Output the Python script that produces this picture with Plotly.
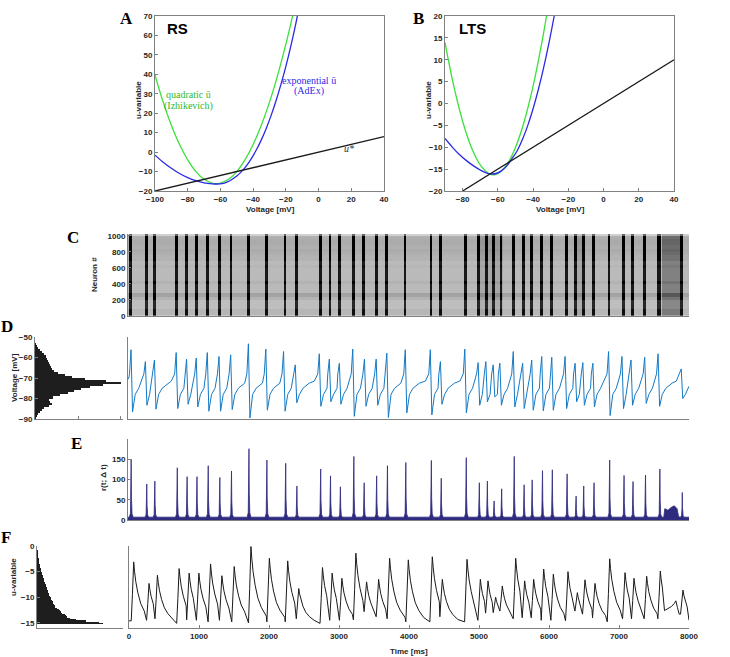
import plotly.graph_objects as go

W, H = 730, 657

# ---------------- Panel A (RS) : nullclines ----------------
a_v_quad = [-100, -95, -90, -85, -80, -75, -70, -65, -62.5, -60, -55, -50, -45, -40, -35, -30, -25, -20, -16, -15]
a_u_quad = [39.6, 25.7, 13.8, 3.9, -4.0, -10.0, -14.0, -15.9, -16.2, -15.9, -14.0, -10.0, -4.0, 3.9, 13.8, 25.7, 39.6, 55.5, 69.6, 73.4]
a_v_exp = [-100, -95, -90, -85, -80, -75, -70, -65, -62, -59, -56, -53, -50, -47, -44, -41, -38, -35, -32, -29, -26, -23, -20, -17, -14, -12]
a_u_exp = [-1.6, -5.2, -8.3, -11.0, -13.1, -14.7, -15.8, -16.3, -16.4, -16.2, -15.4, -14.1, -12.3, -9.9, -6.9, -3.2, 1.2, 6.3, 12.2, 18.9, 26.4, 34.8, 44.1, 54.4, 65.7, 74.1]
a_v_lin = [-100, 40]
a_u_lin = [-20, 8]

# ---------------- Panel B (LTS) ----------------
b_v_quad = [-90, -85, -80, -75, -70, -65, -62.5, -60, -55, -50, -45, -40, -35, -32]
b_u_quad = [13.95, 3.95, -4.05, -10.05, -14.05, -16.05, -16.3, -16.05, -14.05, -10.05, -4.05, 3.95, 13.95, 20.9]
b_v_exp = [-90, -86, -82, -78, -74, -70, -67, -64, -61, -58, -55, -52, -49, -46, -43, -40, -37, -34, -31, -28, -26]
b_u_exp = [-8.0, -9.9, -11.6, -13.0, -14.2, -15.2, -15.8, -16.1, -16.0, -15.4, -14.3, -12.6, -10.8, -8.2, -5.0, -1.2, 3.2, 8.2, 13.8, 20.0, 24.5]
b_v_lin = [-80, 40]
b_u_lin = [-20, 10]

# ---------------- Panel E : population rate peaks ----------------
e_peak_t = [45, 268, 383, 703, 843, 984, 1144, 1310, 1476, 1725, 1981, 2249, 2409, 2748, 2888, 3029, 3221, 3368,
            3546, 3700, 3962, 4326, 4467, 4824, 5010, 5125, 5221, 5329, 5508, 5649, 5764, 5911, 6051, 6262, 6390,
            6499, 6646, 6869, 7074, 7202, 7380, 7585, 7904]
e_peak_h = [150, 89, 96, 129, 107, 107, 134, 105, 121, 176, 148, 140, 84, 126, 109, 82, 157, 92, 109, 134, 142,
            147, 103, 154, 92, 96, 47, 77, 157, 87, 99, 122, 124, 114, 59, 84, 92, 148, 110, 95, 111, 126, 68]
e_base = 7
e_shape_dt = [-25, -10, -3, 0, 4, 12, 28]
e_shape_fr = [0, 0.07, 0.4, 1, 0.35, 0.06, 0]
e_plat_t = [7640, 7655, 7700, 7745, 7790, 7830, 7852]
e_plat_h = [7, 28, 24, 31, 35, 28, 8]

# ---------------- Panel C : raster (density) ----------------
c_bg = 0.3
c_bg_seg = [(5000, 5350, 0.38), (6380, 6520, 0.38), (7620, 7900, 0.55)]
c_row_band = [0.95, 0.95, 0.85, 0.85, 0.85, 1.0, 1.2, 0.9, 0.9, 0.9, 1.0, 0.9, 0.9,
              0.9, 0.9, 0.95, 0.9, 1.0, 1.0, 1.05, 1.1, 1.05, 1.1, 1.1, 1.05, 0.6]

# ---------------- Panel D : voltage ----------------
d_peak_t = [43, 248, 377, 687, 835, 973, 1131, 1298, 1464, 1717, 1965, 2218, 2385, 2728, 2871, 3014, 3205, 3372,
            3539, 3691, 3954, 4311, 4455, 4803, 4993, 5103, 5208, 5303, 5494, 5628, 5757, 5900, 6043, 6233, 6376,
            6486, 6629, 6853, 7044, 7173, 7368, 7559, 7889]
d_peak_v = [-56.2, -62.0, -61.2, -57.6, -60.8, -60.3, -57.6, -59.5, -58.7, -53.3, -55.9, -57.1, -63.6, -58.2, -60.8,
            -62.8, -55.9, -60.8, -60.8, -57.9, -56.2, -56.2, -62.0, -55.9, -62.5, -62.0, -63.6, -62.8, -57.1, -62.8,
            -61.2, -59.5, -59.9, -59.5, -62.8, -62.5, -62.8, -57.1, -59.5, -61.2, -59.9, -58.2, -65.6]
d_trough_v = [-86.5, -83.3, -85.2, -84.9, -82.8, -84.1, -86.2, -86.2, -85.4, -89.5, -85.7, -86.2, -82.1, -83.8,
              -81.6, -82.8, -88.7, -83.8, -83.3, -89.3, -87.0, -88.0, -82.8, -87.0, -83.3, -81.6, -79.2, -83.3,
              -84.1, -84.9, -85.7, -86.0, -85.7, -84.9, -81.6, -83.3, -84.1, -88.3, -84.9, -83.3, -82.4, -83.8, -80.0]
d_start_t, d_start_v = [0, 12], [-70.5, -70.0]
d_pre_dt, d_pre_v = -22, -68.0
d_trough_dt = 22
d_rec_dt = [60, 110, 200]
d_rec_v = [-78.0, -75.0, -72.5]
d_plat_v = -71.5
d_end_t, d_end_v = 8000, -74.0

d_hist_v = [-89.5 + k for k in range(40)]
d_hist_n = [2, 6, 10, 15, 20, 28, 42, 50, 46, 42, 55, 75, 100, 118, 140, 165, 205, 258, 215, 150,
            110, 90, 70, 58, 52, 48, 45, 43, 40, 37, 33, 27, 22, 15, 10, 6, 3, 1, 0, 0]

# ---------------- Panel F : u-variable ----------------
f_peak_t = [67, 286, 406, 716, 859, 998, 1165, 1327, 1503, 1742, 2005, 2267, 2425, 2764, 2902, 3041, 3241, 3394,
            3566, 3723, 3990, 4333, 4476, 4829, 5019, 5129, 5238, 5333, 5524, 5652, 5781, 5924, 6062, 6271, 6405,
            6514, 6657, 6867, 7086, 7214, 7395, 7590, 7914]
f_peak_u = [-3.1, -7.3, -5.7, -4.4, -5.3, -5.3, -3.5, -5.8, -4.0, -0.1, -2.4, -2.9, -8.3, -4.2, -5.3, -6.3, -1.4,
            -7.0, -6.5, -2.4, -2.7, -2.1, -6.5, -2.6, -6.5, -6.8, -10.0, -7.8, -2.4, -6.8, -6.5, -4.5, -5.5, -5.0,
            -9.1, -6.6, -7.3, -2.5, -5.2, -6.3, -5.9, -4.9, -8.6]
f_pre_u = [-14.6, -14.5, -14.2, -15.1, -14.4, -14.5, -14.8, -14.5, -14.8, -15.0, -14.8, -14.8, -14.2, -15.1, -14.5,
           -14.5, -14.4, -12.8, -13.8, -14.2, -14.8, -14.8, -13.8, -14.8, -14.5, -13.1, -13.0, -12.7, -14.2, -14.0,
           -14.0, -14.5, -14.5, -14.6, -12.7, -13.3, -14.0, -14.8, -14.2, -14.2, -14.2, -14.2, -13.3]
f_floor = -15.2
f_rise_dt = [-35, -18]
f_rise_fr = [0.0, 0.45]
f_decay_dt = [12, 30, 60, 100, 150, 220, 320]
f_decay_fr = [0.85, 0.68, 0.5, 0.33, 0.21, 0.1, 0.04]
f_plat_t = [7650, 7700, 7750, 7790, 7812, 7835, 7860]
f_plat_u = [-12.6, -12.2, -11.8, -11.2, -10.7, -12.0, -13.3]
f_start_t, f_start_u = 0, -14.6
f_end_t, f_end_u = 8000, -14.5

f_hist_u = [-15.125 + 0.25 * k for k in range(61)]
f_hist_n = [200, 190, 150, 120, 100, 92, 88, 84, 76, 72, 70, 66, 62, 56, 54, 52, 50, 48, 46, 44, 42,
            40, 38, 36, 35, 33, 32, 30, 29, 28, 26, 25, 24, 22, 21, 20, 18, 17, 16, 15, 14,
            13, 12, 11, 10, 9, 8, 7, 7, 6, 5, 5, 4, 4, 3, 3, 2, 2, 1, 1, 1]

time_ticks = [0, 1000, 2000, 3000, 4000, 5000, 6000, 7000, 8000]

# ================= build traces from the read values =================
def build_f():
    pts = [(f_start_t, f_start_u)]
    n = len(f_peak_t)
    for i in range(n):
        tp, up, pre = f_peak_t[i], f_peak_u[i], f_pre_u[i]
        for dt, fr in zip(f_rise_dt, f_rise_fr):
            pts.append((tp + dt, pre + fr * (up - pre)))
        pts.append((tp, up))
        nxt = f_peak_t[i + 1] + f_rise_dt[0] if i < n - 1 else f_end_t
        extra = [t for t in f_plat_t if tp < t < nxt]
        limit = min(extra) if extra else nxt
        for dt, fr in zip(f_decay_dt, f_decay_fr):
            if tp + dt < limit - 6:
                pts.append((tp + dt, f_floor + fr * (up - f_floor)))
        for t, u in zip(f_plat_t, f_plat_u):
            if tp < t < nxt:
                pts.append((t, u))
    pts.append((f_end_t, f_end_u))
    pts.sort()
    return [p[0] for p in pts], [p[1] for p in pts]


def build_d():
    pts = list(zip(d_start_t, d_start_v))
    n = len(d_peak_t)
    for i in range(n):
        tp = d_peak_t[i]
        pts.append((tp + d_pre_dt, d_pre_v))
        pts.append((tp, d_peak_v[i]))
        pts.append((tp + d_trough_dt, d_trough_v[i]))
        nxt = d_peak_t[i + 1] if i < n - 1 else d_end_t + 30
        limit = nxt + d_pre_dt - 10
        for dt, v in zip(d_rec_dt, d_rec_v):
            if tp + dt < limit:
                pts.append((tp + dt, v))
        if nxt - tp > 300 and i < n - 1:
            pts.append((nxt - 70, d_plat_v))
    pts.append((d_end_t, d_end_v))
    pts.sort()
    return [p[0] for p in pts], [p[1] for p in pts]


def build_e():
    pts = [(0, e_base)]
    for tp, h in zip(e_peak_t, e_peak_h):
        for dt, fr in zip(e_shape_dt, e_shape_fr):
            pts.append((tp + dt, e_base + fr * (h - e_base)))
    pts += list(zip(e_plat_t, e_plat_h))
    pts.append((8000, e_base))
    pts.sort()
    return [p[0] for p in pts], [p[1] for p in pts]


def build_c():
    xs = [5 + 10 * j for j in range(800)]
    col = []
    for tc in xs:
        lv = c_bg
        for s, e, l in c_bg_seg:
            if s <= tc < e:
                lv = l
        for tp in e_peak_t:
            if tp - 30 <= tc <= tp + 12:
                lv = 1.0
        col.append(lv)
    ys = [20 + 40 * i for i in range(len(c_row_band))]
    z = [[min(1.0, c * r) for c in col] for r in c_row_band]
    return xs, ys, z


ft, fu = build_f()
dt_, dv = build_d()
et, eh = build_e()
cx, cy, cz = build_c()

GREEN = '#3ce03c'
BLUE = '#2a2ae6'
BLACK = '#1a1a1a'
AXC = '#808080'
TXT = '#262626'
SANS = 'Liberation Sans'
SERIF = 'Liberation Serif'

fig = go.Figure()
# A
fig.add_trace(go.Scatter(x=a_v_quad, y=a_u_quad, mode='lines', line=dict(color=GREEN, width=1.3, shape='spline'), xaxis='x', yaxis='y'))
fig.add_trace(go.Scatter(x=a_v_exp, y=a_u_exp, mode='lines', line=dict(color=BLUE, width=1.3, shape='spline'), xaxis='x', yaxis='y'))
fig.add_trace(go.Scatter(x=a_v_lin, y=a_u_lin, mode='lines', line=dict(color=BLACK, width=1.3), xaxis='x', yaxis='y'))
# B
fig.add_trace(go.Scatter(x=b_v_quad, y=b_u_quad, mode='lines', line=dict(color=GREEN, width=1.3, shape='spline'), xaxis='x2', yaxis='y2'))
fig.add_trace(go.Scatter(x=b_v_exp, y=b_u_exp, mode='lines', line=dict(color=BLUE, width=1.3, shape='spline'), xaxis='x2', yaxis='y2'))
fig.add_trace(go.Scatter(x=b_v_lin, y=b_u_lin, mode='lines', line=dict(color=BLACK, width=1.3), xaxis='x2', yaxis='y2'))
# C
fig.add_trace(go.Heatmap(x=cx, y=cy, z=cz, zmin=0, zmax=1, showscale=False,
                         colorscale=[[0, '#ffffff'], [1, '#000000']], xaxis='x3', yaxis='y3'))
# D hist + trace
fig.add_trace(go.Bar(x=d_hist_n, y=d_hist_v, orientation='h', width=1.0,
                     marker=dict(color='#1e1e1e', line=dict(width=0)), xaxis='x4', yaxis='y4'))
fig.add_trace(go.Scatter(x=dt_, y=dv, mode='lines', line=dict(color='#1479c4', width=1.0), xaxis='x5', yaxis='y5'))
# E
fig.add_trace(go.Scatter(x=et, y=eh, mode='lines', fill='tozeroy', fillcolor='#2e2b7e',
                         line=dict(color='#2e2b7e', width=0.8), xaxis='x6', yaxis='y6'))
# F hist + trace
fig.add_trace(go.Bar(x=f_hist_n, y=f_hist_u, orientation='h', width=0.25,
                     marker=dict(color='#1e1e1e', line=dict(width=0)), xaxis='x7', yaxis='y7'))
fig.add_trace(go.Scatter(x=ft, y=fu, mode='lines', line=dict(color=BLACK, width=1.0), xaxis='x8', yaxis='y8'))


def xd(a, b):
    return [a / W, b / W]


def yd(top, bot):
    return [1 - bot / H, 1 - top / H]


tf = dict(family=SANS, size=8, color=TXT, weight='bold')


def ax(**kw):
    base = dict(showline=True, linecolor=AXC, linewidth=1, showgrid=False, zeroline=False, automargin=False,
                ticks='inside', ticklen=3, tickcolor=AXC, tickfont=tf, fixedrange=True)
    base.update(kw)
    return base


noax = dict(showticklabels=False, ticks='')

fig.update_layout(
    template='none',
    width=W, height=H, margin=dict(l=0, r=0, t=0, b=0, pad=0), autosize=False,
    font=dict(family=SANS, size=8, color=TXT),
    paper_bgcolor='white', plot_bgcolor='white', showlegend=False, bargap=0,
    xaxis=ax(domain=xd(155, 384), range=[-100, 40], dtick=20, mirror=True, anchor='y'),
    yaxis=ax(domain=yd(16, 191), range=[-20, 70], dtick=10, mirror=True, anchor='x'),
    xaxis2=ax(domain=xd(445, 674), range=[-90, 40], tickvals=[-80, -60, -40, -20, 0, 20, 40], mirror=True, anchor='y2'),
    yaxis2=ax(domain=yd(16, 191), range=[-20, 20], dtick=5, mirror=True, anchor='x2'),
    xaxis3=ax(domain=xd(128, 689), range=[0, 8000], anchor='y3', **noax),
    yaxis3=ax(domain=yd(234, 316), range=[0, 1024], tickvals=[0, 200, 400, 600, 800, 1000], anchor='x3'),
    xaxis4=ax(domain=xd(35, 123), range=[0, 265], tickvals=[130, 258], showticklabels=False, anchor='y4'),
    yaxis4=ax(domain=yd(337, 419), range=[-90, -50], dtick=10, anchor='x4'),
    xaxis5=ax(domain=xd(128, 689), range=[0, 8000], anchor='y5', **noax),
    yaxis5=ax(domain=yd(337, 419), range=[-90, -50], anchor='x5', **noax),
    xaxis6=ax(domain=xd(128, 689), range=[0, 8000], anchor='y6', **noax),
    yaxis6=ax(domain=yd(439, 520), range=[0, 200], tickvals=[0, 50, 100, 150], anchor='x6'),
    xaxis7=ax(domain=xd(37, 123), range=[0, 262], anchor='y7', **noax),
    yaxis7=ax(domain=yd(546, 628), range=[-16, 0], tickvals=[-15, -10, -5, 0], anchor='x7'),
    xaxis8=ax(domain=xd(129, 689), range=[0, 8000], tickvals=time_ticks, anchor='y8'),
    yaxis8=ax(domain=yd(546, 628), range=[-16, 0], anchor='x8', **noax),
)


def ann(text, px, py, size=8, family=SANS, color=TXT, weight='bold', angle=0, style='normal'):
    fig.add_annotation(text=text, x=px / W, y=1 - py / H, xref='paper', yref='paper', showarrow=False,
                       textangle=angle, xanchor='center', yanchor='middle', borderpad=0,
                       font=dict(family=family, size=size, color=color, weight=weight, style=style))


# panel letters
for t, px, py in [('A', 126, 18), ('B', 418, 18), ('C', 73, 237), ('D', 7, 327), ('E', 76, 443), ('F', 6, 537)]:
    ann(t, px, py, size=17, family=SERIF, color='#000000')
# titles inside A and B
ann('RS', 177, 28, size=15, color='#000000')
ann('LTS', 472, 28, size=15, color='#000000')
# curve labels
ann('quadratic ū', 188, 95, size=10, family=SERIF, color='#2fb82f', weight='normal')
ann('(Izhikevich)', 188, 106, size=10, family=SERIF, color='#2fb82f', weight='normal')
ann('exponential ū', 309, 80, size=10, family=SERIF, color='#2a2ae6', weight='normal')
ann('(AdEx)', 309, 91, size=10, family=SERIF, color='#2a2ae6', weight='normal')
ann('u*', 349, 148, size=10, family=SERIF, color='#333333', weight='normal', style='italic')
# axis titles
ann('Voltage [mV]', 270, 209, size=8)
ann('u-variable', 138, 100, size=8, angle=-90)
ann('Voltage [mV]', 560, 209, size=8)
ann('u-variable', 428, 100, size=8, angle=-90)
ann('Neuron #', 95, 275, size=8, angle=-90)
ann('Voltage [mV]', 14, 378, size=8, angle=-90)
ann('r(t; Δ t)', 103, 478, size=8, angle=-90)
ann('u-variable', 13, 577, size=8, angle=-90)
ann('Time [ms]', 409, 651, size=8)

fig.write_html('out.html', config={'displayModeBar': False, 'staticPlot': True},
               post_script="document.body.style.margin='0px';document.body.style.overflow='hidden';")
